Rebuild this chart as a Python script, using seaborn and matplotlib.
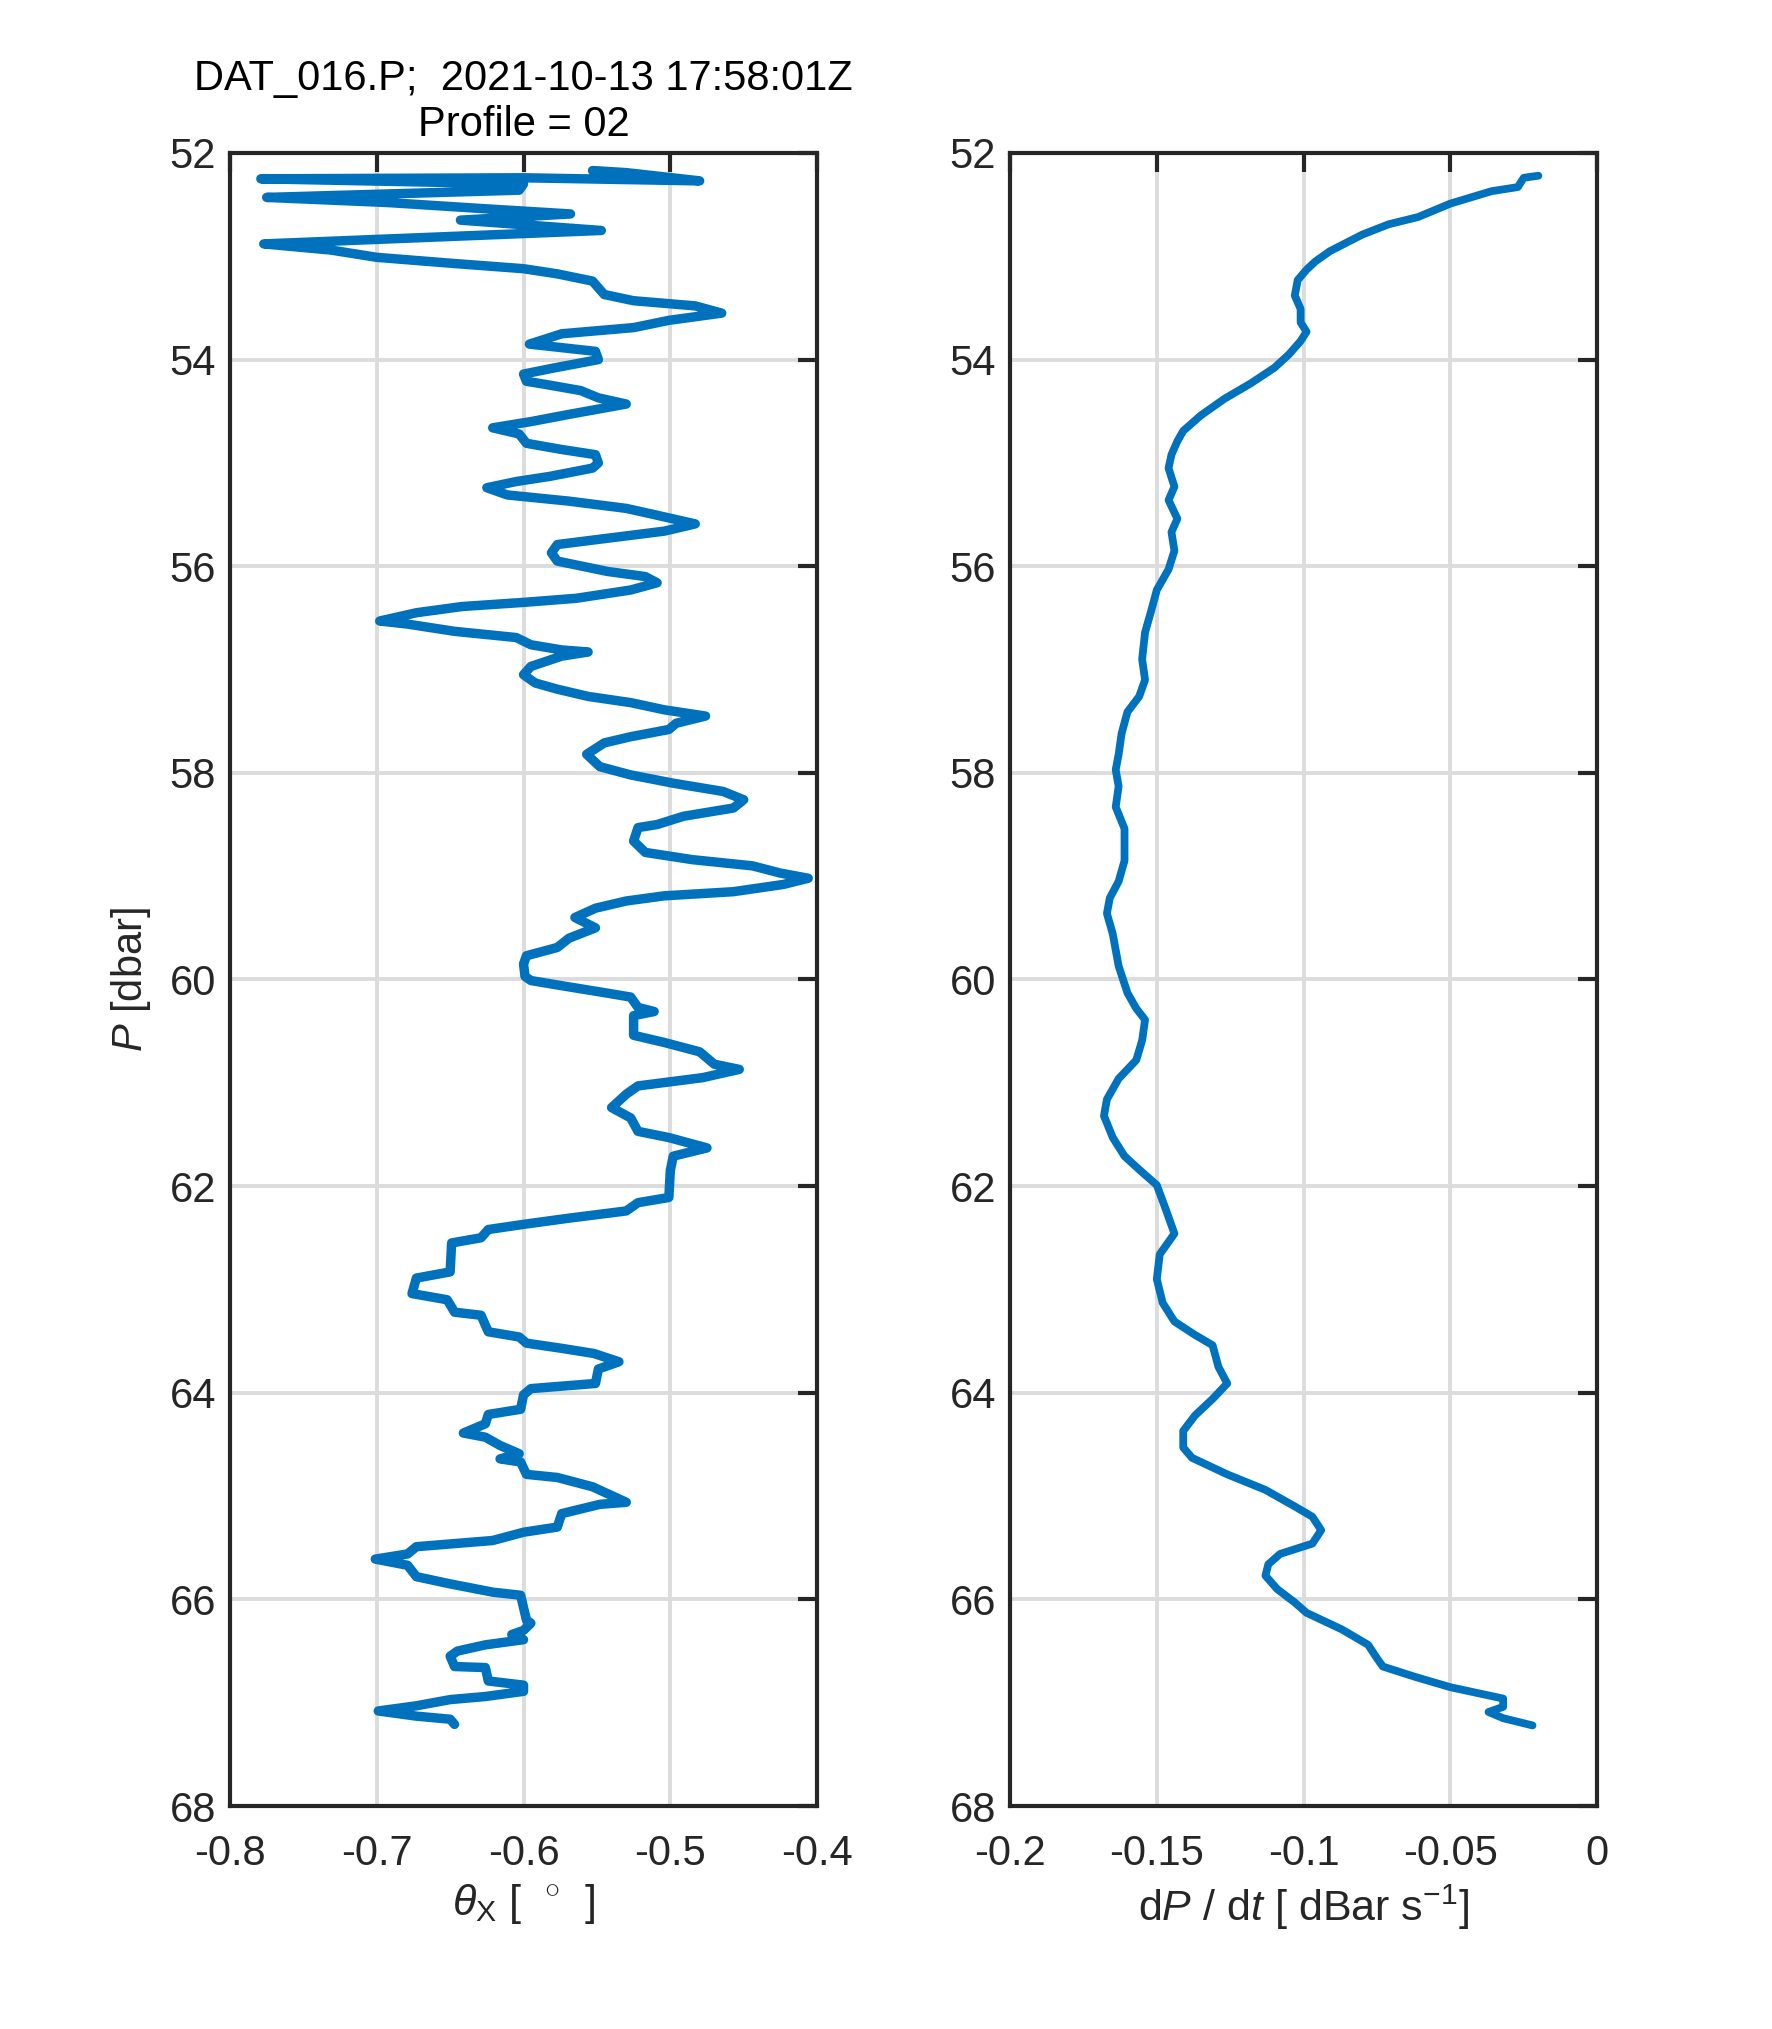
import numpy as np
import pandas as pd
import matplotlib
matplotlib.use("Agg")
import matplotlib.pyplot as plt
import seaborn as sns

# left panel: pitch angle theta_X vs pressure
p_left = [52.17, 52.19, 52.27, 52.24, 52.25, 52.30, 52.36, 52.43, 52.48, 52.54,
          52.59, 52.65, 52.75, 52.88, 52.94, 53.01, 53.07, 53.12, 53.17, 53.24,
          53.37, 53.43, 53.48, 53.55, 53.62, 53.69, 53.75, 53.85, 53.92, 54.00,
          54.08, 54.14, 54.21, 54.24, 54.30, 54.37, 54.43, 54.53, 54.60, 54.66,
          54.72, 54.81, 54.87, 54.92, 55.00, 55.05, 55.13, 55.18, 55.24, 55.31,
          55.37, 55.44, 55.50, 55.59, 55.66, 55.73, 55.79, 55.87, 55.95, 56.05,
          56.10, 56.16, 56.23, 56.31, 56.35, 56.39, 56.45, 56.53, 56.56, 56.63,
          56.69, 56.76, 56.81, 56.83, 56.87, 56.97, 57.05, 57.13, 57.19, 57.26,
          57.32, 57.39, 57.45, 57.52, 57.58, 57.65, 57.71, 57.82, 57.94, 58.02,
          58.10, 58.18, 58.26, 58.34, 58.42, 58.50, 58.53, 58.66, 58.77, 58.84,
          58.90, 58.97, 59.02, 59.08, 59.15, 59.19, 59.24, 59.31, 59.40, 59.50,
          59.60, 59.69, 59.77, 59.85, 59.97, 60.01, 60.06, 60.12, 60.17, 60.27,
          60.31, 60.35, 60.54, 60.61, 60.70, 60.82, 60.87, 60.95, 61.03, 61.11,
          61.24, 61.34, 61.47, 61.53, 61.63, 61.71, 61.85, 62.11, 62.16, 62.24,
          62.31, 62.37, 62.42, 62.50, 62.55, 62.83, 62.89, 63.04, 63.10, 63.22,
          63.25, 63.41, 63.46, 63.52, 63.57, 63.62, 63.70, 63.77, 63.91, 63.96,
          64.02, 64.16, 64.21, 64.30, 64.39, 64.43, 64.51, 64.59, 64.64, 64.67,
          64.79, 64.82, 64.91, 65.06, 65.08, 65.17, 65.30, 65.35, 65.43, 65.49,
          65.56, 65.61, 65.67, 65.78, 65.85, 65.93, 65.96, 66.20, 66.23, 66.30,
          66.34, 66.39, 66.44, 66.50, 66.55, 66.65, 66.66, 66.79, 66.83, 66.89,
          66.94, 66.97, 67.03, 67.08, 67.13, 67.16, 67.21]
theta_x = [-0.553, -0.530, -0.480, -0.600, -0.779, -0.600, -0.603, -0.775, -0.692, -0.626,
           -0.568, -0.643, -0.547, -0.777, -0.731, -0.700, -0.647, -0.600, -0.577, -0.553,
           -0.545, -0.525, -0.483, -0.465, -0.501, -0.525, -0.574, -0.596, -0.551, -0.549,
           -0.579, -0.600, -0.598, -0.585, -0.561, -0.549, -0.530, -0.569, -0.595, -0.621,
           -0.603, -0.598, -0.574, -0.551, -0.549, -0.553, -0.582, -0.605, -0.625, -0.611,
           -0.569, -0.530, -0.511, -0.483, -0.504, -0.543, -0.577, -0.581, -0.577, -0.543,
           -0.517, -0.509, -0.527, -0.564, -0.600, -0.642, -0.673, -0.698, -0.679, -0.647,
           -0.605, -0.595, -0.574, -0.556, -0.574, -0.595, -0.600, -0.592, -0.577, -0.556,
           -0.527, -0.504, -0.476, -0.496, -0.501, -0.527, -0.545, -0.557, -0.548, -0.527,
           -0.498, -0.464, -0.450, -0.457, -0.491, -0.509, -0.522, -0.525, -0.517, -0.485,
           -0.444, -0.425, -0.406, -0.423, -0.457, -0.504, -0.530, -0.551, -0.565, -0.551,
           -0.569, -0.577, -0.598, -0.600, -0.599, -0.595, -0.574, -0.548, -0.527, -0.522,
           -0.511, -0.525, -0.525, -0.504, -0.480, -0.470, -0.453, -0.478, -0.522, -0.530,
           -0.540, -0.527, -0.522, -0.501, -0.475, -0.498, -0.500, -0.501, -0.522, -0.530,
           -0.569, -0.600, -0.624, -0.629, -0.649, -0.650, -0.673, -0.676, -0.652, -0.647,
           -0.629, -0.624, -0.603, -0.598, -0.574, -0.552, -0.535, -0.549, -0.551, -0.595,
           -0.600, -0.602, -0.624, -0.626, -0.641, -0.626, -0.616, -0.603, -0.616, -0.602,
           -0.598, -0.577, -0.553, -0.530, -0.548, -0.574, -0.577, -0.600, -0.621, -0.673,
           -0.679, -0.701, -0.679, -0.673, -0.650, -0.621, -0.602, -0.598, -0.595, -0.600,
           -0.608, -0.600, -0.626, -0.645, -0.650, -0.647, -0.626, -0.624, -0.600, -0.600,
           -0.626, -0.650, -0.673, -0.699, -0.673, -0.650, -0.647]

# right panel: fall rate dP/dt vs pressure
p_right = [52.22, 52.24, 52.33, 52.37, 52.49, 52.62, 52.69, 52.79, 52.95, 53.05,
           53.13, 53.23, 53.38, 53.51, 53.64, 53.73, 53.82, 53.95, 54.08, 54.23,
           54.38, 54.54, 54.69, 54.79, 54.92, 55.05, 55.23, 55.36, 55.54, 55.67,
           55.85, 56.03, 56.23, 56.44, 56.64, 56.90, 57.10, 57.26, 57.41, 57.62,
           57.82, 57.97, 58.13, 58.33, 58.54, 58.85, 59.05, 59.21, 59.36, 59.56,
           59.87, 60.13, 60.28, 60.39, 60.59, 60.78, 60.96, 61.16, 61.32, 61.53,
           61.71, 61.84, 61.99, 62.22, 62.46, 62.66, 62.90, 63.13, 63.31, 63.44,
           63.54, 63.75, 63.91, 64.06, 64.22, 64.37, 64.53, 64.63, 64.79, 64.94,
           65.10, 65.20, 65.33, 65.46, 65.56, 65.66, 65.77, 65.90, 66.03, 66.13,
           66.29, 66.44, 66.57, 66.65, 66.75, 66.85, 66.96, 67.04, 67.09, 67.15,
           67.22]
dpdt = [-0.020, -0.025, -0.027, -0.036, -0.050, -0.061, -0.071, -0.080, -0.091, -0.096,
        -0.099, -0.102, -0.103, -0.101, -0.101, -0.099, -0.101, -0.105, -0.110, -0.118,
        -0.127, -0.135, -0.141, -0.143, -0.145, -0.146, -0.144, -0.146, -0.143, -0.145,
        -0.144, -0.146, -0.150, -0.152, -0.154, -0.155, -0.154, -0.156, -0.160, -0.162,
        -0.163, -0.164, -0.163, -0.164, -0.161, -0.161, -0.163, -0.166, -0.167, -0.165,
        -0.163, -0.160, -0.157, -0.154, -0.155, -0.157, -0.163, -0.167, -0.168, -0.165,
        -0.161, -0.156, -0.150, -0.147, -0.144, -0.149, -0.150, -0.148, -0.144, -0.137,
        -0.131, -0.129, -0.126, -0.131, -0.137, -0.141, -0.141, -0.138, -0.126, -0.113,
        -0.103, -0.097, -0.094, -0.097, -0.108, -0.112, -0.113, -0.109, -0.103, -0.099,
        -0.087, -0.078, -0.075, -0.073, -0.062, -0.050, -0.032, -0.032, -0.037, -0.032,
        -0.022]

y_ticks = [52, 54, 56, 58, 60, 62, 64, 66, 68]
x_ticks_left = [-0.8, -0.7, -0.6, -0.5, -0.4]
x_ticks_right = [-0.2, -0.15, -0.1, -0.05, 0]
x_labels_right = ["-0.2", "-0.15", "-0.1", "-0.05", "0"]

df_left = pd.DataFrame({"theta": theta_x, "P": p_left})
df_right = pd.DataFrame({"dpdt": dpdt, "P": p_right})

sns.set_theme(style="white")
plt.rcParams['font.family'] = ['Liberation Sans', 'DejaVu Sans']
plt.rcParams['mathtext.fontset'] = 'custom'
plt.rcParams['mathtext.rm'] = 'Liberation Sans'
plt.rcParams['mathtext.it'] = 'Liberation Sans:italic'

blue = "#0072BD"
dark = "#262626"

fig = plt.figure(figsize=(8.86, 10.145), dpi=200)
ax1 = fig.add_axes([0.1298, 0.1099, 0.3313, 0.8147])
ax2 = fig.add_axes([0.5700, 0.1099, 0.3313, 0.8147])

sns.lineplot(data=df_left, x="theta", y="P", sort=False, estimator=None,
             ax=ax1, color=blue, linewidth=3.4)
sns.lineplot(data=df_right, x="dpdt", y="P", sort=False, estimator=None,
             ax=ax2, color=blue, linewidth=2.8)

for ax in (ax1, ax2):
    ax.set_ylim(68, 52)
    ax.set_yticks(y_ticks)
    ax.grid(True, color="#dcdcdc", linewidth=1.4)
    ax.set_axisbelow(True)
    ax.tick_params(direction="in", length=7, width=1.5, top=True, right=True,
                   labelsize=15, colors=dark)
    ax.tick_params(axis="y", pad=5)
    ax.tick_params(axis="x", pad=10)
    for s in ax.spines.values():
        s.set_color(dark)
        s.set_linewidth(1.5)

ax1.set_xlim(-0.8, -0.4)
ax1.set_xticks(x_ticks_left)
ax1.set_xticklabels([f"{v:.1f}" for v in x_ticks_left])
ax2.set_xlim(-0.2, 0)
ax2.set_xticks(x_ticks_right)
ax2.set_xticklabels(x_labels_right)

ax1.set_ylabel("$P$ [dbar]", fontsize=15, color=dark, labelpad=6)
ax1.set_xlabel(r"$\theta_{\rm X}$ [  $^{\circ}$  ]", fontsize=15.5, color=dark, labelpad=3)
ax2.set_ylabel("")
ax2.set_xlabel(r"d$P$ / d$t$ [ dBar s$^{-1}$]", fontsize=15.5, color=dark, labelpad=3)

ax1.set_title("DAT_016.P;  2021-10-13 17:58:01Z\nProfile = 02",
              fontsize=15, color="black", pad=6, linespacing=1.2)

fig.savefig("out.png", dpi=200)
